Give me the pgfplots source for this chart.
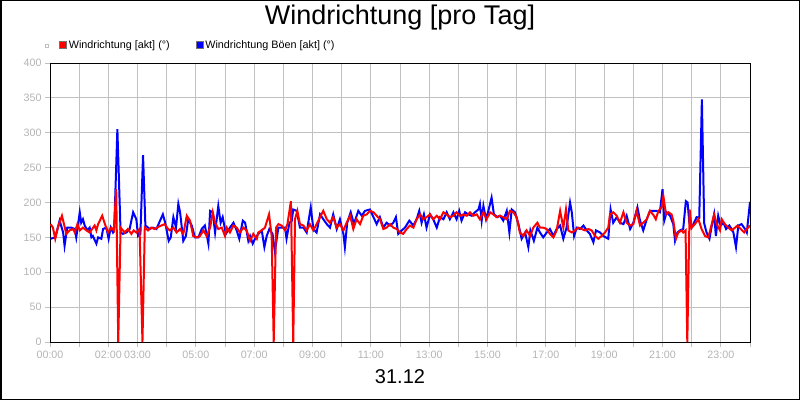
\documentclass[border=0pt]{standalone}
\usepackage{fontspec}
\setmainfont{Liberation Sans}
\usepackage{pgfplots}
\pgfplotsset{compat=1.18}
\definecolor{gridgray}{RGB}{192,192,192}
\definecolor{labelgray}{RGB}{180,180,180}

\begin{document}
\begin{tikzpicture}
\useasboundingbox (0,0) rectangle (800pt,400pt);
\draw[black, line width=1.5pt] (0.75pt,0.75pt) rectangle (799.25pt,399.25pt);
\node[font=\fontsize{27}{30}\selectfont] at (400pt,382pt) {Windrichtung [pro Tag]};
\node[font=\fontsize{20}{24}\selectfont] at (400pt,23pt) {31.12};
% tiny grey marker in front of the legend
\draw[gridgray, line width=0.6pt] (45.5pt,352.5pt) rectangle (48.5pt,355.5pt);

\begin{axis}[
    at={(50pt,58pt)}, anchor=south west,
    scale only axis, width=700pt, height=279pt,
    xmin=0, xmax=24, ymin=0, ymax=400,
    xtick={0,...,24},
    xticklabels={00:00,{},02:00,03:00,{},05:00,{},07:00,{},09:00,{},11:00,{},13:00,{},15:00,{},17:00,{},19:00,{},21:00,{},23:00,{}},
    ytick={0,50,...,400},
    grid=major,
    grid style={gridgray, line width=1pt},
    axis line style={black, line width=1pt},
    tick pos=left, tick align=outside,
    major tick length=5pt,
    tick style={gridgray, line width=1pt},
    tick label style={font=\fontsize{10.7}{12}\selectfont, text=labelgray},
    /pgf/number format/assume math mode=true,
    legend style={at={(axis description cs:0.0129,1.0645)}, anchor=west,
        draw=none, fill=none, inner sep=0pt,
        font=\fontsize{10.8}{12}\selectfont,
        /tikz/every even column/.append style={column sep=24pt}},
    legend columns=2,
    legend cell align=left,
    legend image code/.code={\path[#1] (0pt,-3.5pt) rectangle (7pt,3.5pt);},
]
\addlegendimage{fill=red, draw=black!55, line width=0.6pt}
\addlegendentry{Windrichtung [akt] (°)}
\addlegendimage{fill=blue, draw=black!55, line width=0.6pt}
\addlegendentry{Windrichtung Böen [akt] (°)}

% Windrichtung Böen [akt]
\addplot[blue, line width=2pt, forget plot] coordinates {
(0.02,148)(0.18,150)(0.33,174)(0.45,157)(0.50,138)(0.59,164)(0.73,164)(0.85,162)(0.90,150)(1.02,186)(1.07,171)(1.13,176)(1.19,167)(1.28,160)(1.36,164)(1.42,150)(1.47,152)(1.59,141)(1.65,150)(1.76,148)(1.82,162)(1.93,164)(2.01,148)(2.08,164)(2.16,157)(2.20,160)(2.31,305)(2.42,157)(2.50,155)(2.62,157)(2.73,162)(2.85,186)(2.96,176)(3.02,152)(3.10,155)(3.19,268)(3.27,167)(3.42,162)(3.53,164)(3.65,162)(3.70,167)(3.87,183)(3.95,171)(4.07,145)(4.14,150)(4.23,179)(4.32,164)(4.40,198)(4.46,186)(4.57,145)(4.66,152)(4.74,176)(4.86,167)(4.97,150)(5.09,150)(5.20,162)(5.31,167)(5.43,141)(5.49,188)(5.58,186)(5.66,157)(5.77,195)(5.85,171)(5.92,179)(6.03,155)(6.17,164)(6.29,171)(6.40,160)(6.49,148)(6.61,174)(6.69,171)(6.80,145)(6.86,152)(6.95,141)(7.03,148)(7.14,155)(7.26,160)(7.35,136)(7.43,152)(7.52,162)(7.63,155)(7.71,130)(7.83,164)(7.94,164)(8.06,164)(8.11,148)(8.21,171)(8.29,174)(8.34,190)(8.46,188)(8.57,164)(8.69,164)(8.80,157)(8.94,193)(9.03,162)(9.14,157)(9.26,183)(9.37,176)(9.49,169)(9.60,164)(9.71,183)(9.83,162)(9.94,176)(10.06,155)(10.11,136)(10.19,171)(10.31,186)(10.42,169)(10.57,188)(10.69,181)(10.80,188)(10.97,190)(11.09,179)(11.20,169)(11.31,179)(11.43,164)(11.54,171)(11.66,167)(11.77,171)(11.86,179)(11.94,155)(12.06,160)(12.17,164)(12.32,174)(12.46,167)(12.57,176)(12.66,188)(12.74,171)(12.82,183)(12.91,164)(13.03,183)(13.14,176)(13.26,164)(13.37,179)(13.49,176)(13.60,186)(13.71,176)(13.83,186)(13.94,176)(14.03,188)(14.11,174)(14.23,186)(14.34,183)(14.46,181)(14.57,186)(14.69,190)(14.74,198)(14.80,174)(14.86,195)(14.95,176)(15.03,188)(15.14,207)(15.22,183)(15.34,179)(15.43,181)(15.54,174)(15.66,188)(15.75,157)(15.83,190)(15.94,186)(16.06,169)(16.17,148)(16.29,157)(16.40,136)(16.47,160)(16.59,145)(16.71,164)(16.80,157)(16.91,150)(17.03,157)(17.14,162)(17.26,152)(17.37,162)(17.49,167)(17.60,148)(17.71,164)(17.83,200)(17.89,186)(17.97,152)(18.06,164)(18.17,162)(18.29,167)(18.40,160)(18.51,155)(18.63,143)(18.72,160)(18.86,157)(18.97,152)(19.14,148)(19.22,190)(19.31,171)(19.43,179)(19.54,171)(19.66,169)(19.77,181)(19.89,162)(20.00,171)(20.14,193)(20.23,174)(20.34,160)(20.46,176)(20.57,188)(20.69,188)(20.80,188)(20.91,186)(21.00,219)(21.06,174)(21.14,186)(21.26,181)(21.37,169)(21.43,145)(21.51,157)(21.60,160)(21.71,162)(21.80,202)(21.86,200)(21.92,171)(22.00,164)(22.08,171)(22.17,179)(22.26,178)(22.35,348)(22.43,170)(22.51,157)(22.61,148)(22.69,167)(22.77,183)(22.83,152)(22.91,181)(22.99,167)(23.09,171)(23.18,162)(23.29,167)(23.37,162)(23.43,157)(23.52,136)(23.60,167)(23.71,169)(23.83,162)(23.89,157)(24.00,201)
};

% Windrichtung [akt]
\addplot[red, line width=2pt, forget plot] coordinates {
(0.02,169)(0.10,164)(0.18,148)(0.27,164)(0.41,181)(0.56,155)(0.67,160)(0.79,162)(0.85,157)(0.94,169)(1.02,160)(1.13,164)(1.25,160)(1.36,157)(1.53,167)(1.59,160)(1.65,169)(1.79,181)(1.90,167)(1.99,157)(2.10,164)(2.19,160)(2.27,219)(2.34,0)(2.42,164)(2.56,157)(2.67,162)(2.79,155)(2.87,160)(2.96,157)(3.07,162)(3.17,0)(3.25,164)(3.36,160)(3.47,164)(3.59,162)(3.76,166)(3.93,169)(4.05,162)(4.11,160)(4.23,164)(4.34,157)(4.46,162)(4.57,155)(4.69,181)(4.80,174)(4.91,152)(5.03,150)(5.14,152)(5.26,160)(5.37,152)(5.49,164)(5.58,186)(5.66,171)(5.77,162)(5.89,164)(6.00,152)(6.06,164)(6.17,157)(6.29,167)(6.40,164)(6.51,157)(6.63,164)(6.74,160)(6.86,145)(6.97,155)(7.09,148)(7.14,157)(7.26,160)(7.37,164)(7.51,183)(7.60,152)(7.67,0)(7.75,164)(7.83,169)(7.94,167)(8.06,160)(8.14,169)(8.26,202)(8.34,0)(8.40,176)(8.48,188)(8.57,169)(8.69,167)(8.80,160)(8.91,169)(9.03,160)(9.14,169)(9.26,179)(9.37,188)(9.49,176)(9.60,171)(9.71,179)(9.83,164)(9.94,169)(10.06,160)(10.17,171)(10.29,181)(10.40,162)(10.51,176)(10.63,169)(10.74,181)(10.86,183)(10.97,188)(11.09,186)(11.20,181)(11.31,176)(11.43,162)(11.54,164)(11.66,169)(11.77,164)(11.89,162)(12.00,157)(12.11,155)(12.23,162)(12.34,167)(12.46,164)(12.57,176)(12.69,183)(12.80,176)(12.91,179)(13.03,183)(13.14,176)(13.26,181)(13.37,176)(13.49,186)(13.60,183)(13.71,179)(13.83,181)(13.94,186)(14.06,181)(14.17,183)(14.29,181)(14.40,186)(14.51,181)(14.63,183)(14.74,176)(14.86,186)(14.97,176)(15.09,186)(15.20,183)(15.31,179)(15.43,181)(15.54,179)(15.66,176)(15.77,188)(15.89,186)(16.00,179)(16.11,157)(16.23,152)(16.34,160)(16.46,152)(16.57,164)(16.71,171)(16.80,164)(16.91,164)(17.03,162)(17.14,155)(17.26,150)(17.37,160)(17.49,188)(17.60,164)(17.69,190)(17.77,160)(17.89,157)(18.00,160)(18.11,164)(18.23,162)(18.34,160)(18.46,162)(18.57,160)(18.69,152)(18.80,148)(18.91,152)(19.03,157)(19.14,164)(19.20,183)(19.31,186)(19.43,181)(19.54,171)(19.66,186)(19.77,171)(19.89,167)(20.00,169)(20.11,188)(20.23,167)(20.34,171)(20.46,176)(20.57,188)(20.69,182)(20.77,176)(20.86,188)(20.97,193)(21.03,209)(21.12,183)(21.20,186)(21.31,183)(21.37,174)(21.46,148)(21.54,157)(21.66,160)(21.71,157)(21.79,160)(21.85,0)(21.93,190)(22.00,164)(22.11,169)(22.23,176)(22.34,162)(22.46,152)(22.57,150)(22.69,169)(22.77,183)(22.86,169)(22.97,160)(23.03,176)(23.14,169)(23.26,164)(23.37,160)(23.49,164)(23.57,167)(23.68,162)(23.80,157)(23.89,162)(24.00,167)
};
\end{axis}
\end{tikzpicture}
\end{document}
